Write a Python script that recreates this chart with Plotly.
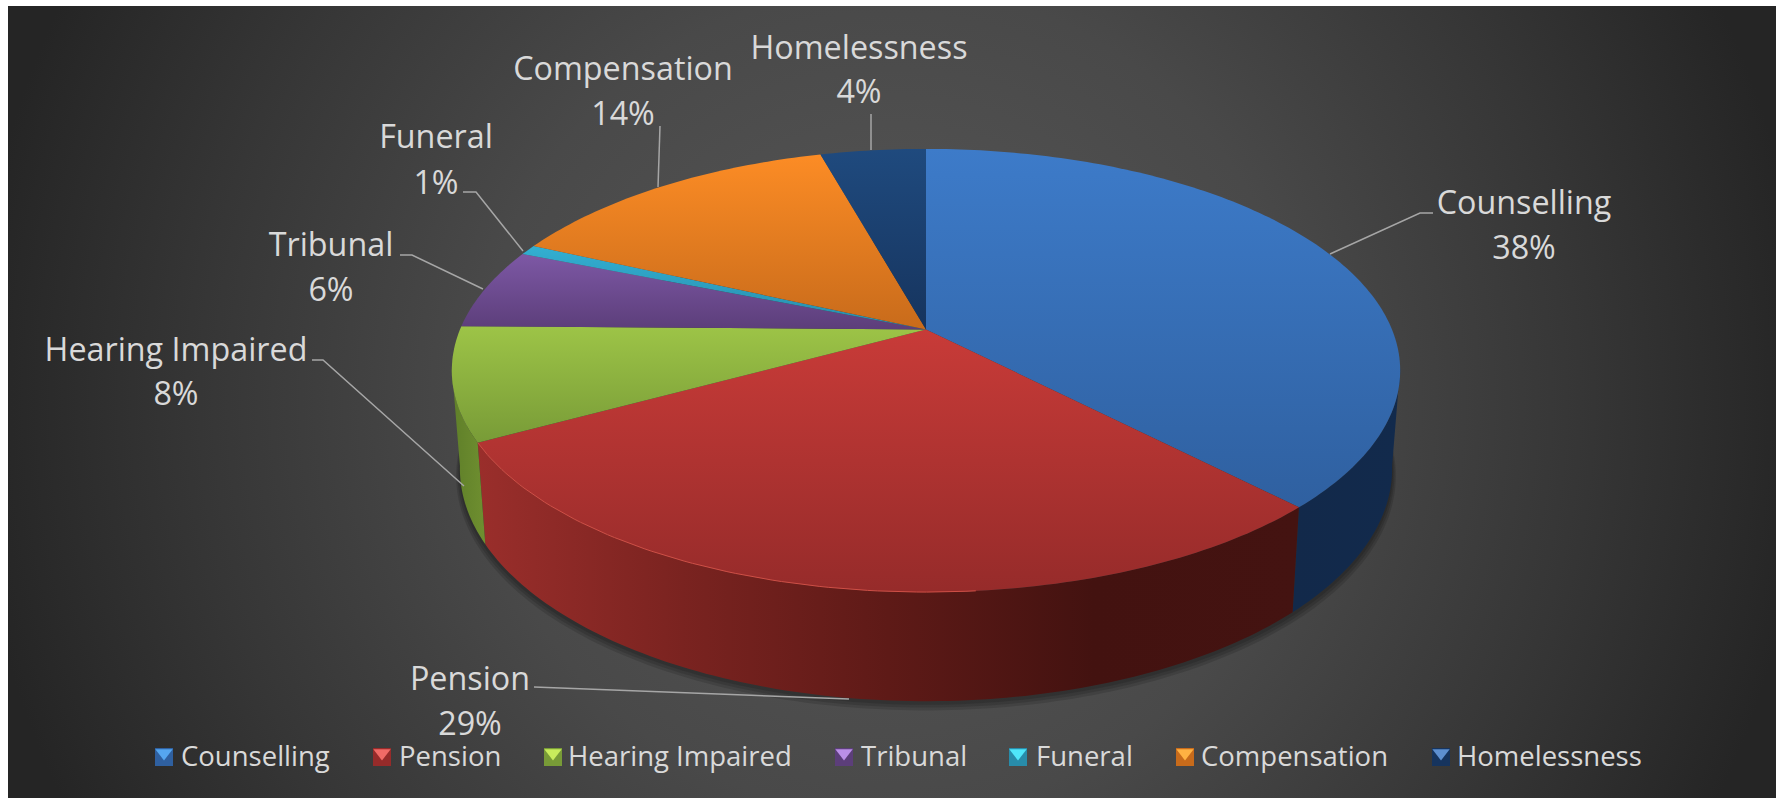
import numpy as np
import plotly.graph_objects as go

categories = ["Counselling", "Pension", "Hearing Impaired", "Tribunal", "Funeral", "Compensation", "Homelessness"]
shares = [37.8, 29.2, 8.25, 5.9, 0.75, 13.8, 4.3]

top_light = ["#3d7bc9", "#c83b38", "#9dc447", "#7d58a5", "#32afd2", "#fc8c25", "#1f4a7e"]
top_dark = ["#2f60a0", "#962b2a", "#789b37", "#5c3e7a", "#288caa", "#c86b1b", "#16345e"]
swatch_light = ["#55a6f0", "#f06a66", "#c8ec5c", "#bb8fe8", "#4fe6fa", "#ffb142", "#5d8fd0"]
wall_stops = {
    0: ["#12294a", "#122a4c"],
    1: ["#9a2e2b", "#7a2320", "#5e1a17", "#431210", "#441311"],
    2: ["#5f7f29", "#6f8f30"],
}

# pie geometry in pixels, measured on the picture
CX, CY = 926, 329.5
RX, RY = 466, 214
PERSP = 0.185
WALL_SX, WALL_SY = 0.983, 1.05
WALL_DROP = 96

label_centres = {
    "Counselling": (1524, 206, 251),
    "Pension": (470, 682, 727),
    "Hearing Impaired": (176, 353, 397),
    "Tribunal": (331, 248, 293),
    "Funeral": (436, 140, 186),
    "Compensation": (623, 72, 117),
    "Homelessness": (859, 51, 95),
}
leaders = [
    ([1433, 1420, 1330], [213, 213, 254]),
    ([534, 849], [687, 699]),
    ([312, 323, 464], [360, 360, 486]),
    ([400, 412, 483], [255, 255, 289]),
    ([463, 476, 523], [192, 192, 251]),
    ([660, 658], [126, 187]),
    ([871, 871], [114, 150]),
]
legend_swatch_x = [164, 382, 553, 844, 1018, 1185, 1441]
legend_text_x = [181, 399, 568, 861, 1036, 1201, 1457]
LEGEND_Y = 759


def project(angle_deg, sx=1.0, sy=1.0, drop=0.0):
    """Angle clockwise from the back of the pie to pixel position."""
    a = np.radians(angle_deg)
    depth = 1 - PERSP * -np.cos(a)
    x = RX * np.sin(a) / depth
    y = RY * -np.cos(a) / depth
    return CX + sx * x, CY + sy * y + drop


def arc(start, end, sx=1.0, sy=1.0, drop=0.0):
    return project(np.linspace(start, end, max(int(abs(end - start)) + 2, 3)), sx, sy, drop)


edges = np.cumsum([0] + shares) / sum(shares) * 360

fig = go.Figure()

# background glow
fig.add_trace(go.Scatter(
    x=[-30, 1810, 1810, -30, -30],
    y=[-520, -520, 1320, 1320, -520],
    mode="none",
    fill="toself",
    fillgradient=dict(type="radial", colorscale=[
        [0, "#585858"], [0.45, "#494949"], [0.75, "#363636"], [1, "#252525"]]),
    hoverinfo="skip",
    showlegend=False,
))

# soft shadow under the wall
for grow, drop in [(1.008, 7), (1.005, 5), (1.002, 3)]:
    sx, sy = arc(0, 360, WALL_SX * grow, WALL_SY * grow, WALL_DROP + drop)
    fig.add_trace(go.Scatter(
        x=sx, y=sy, mode="none", fill="toself",
        fillcolor="rgba(0,0,0,0.13)", hoverinfo="skip", showlegend=False,
    ))

# walls
for i, stops in wall_stops.items():
    start, end = max(edges[i], 100), min(edges[i + 1], 260)
    tx, ty = arc(start, end)
    bx, by = arc(end, start, WALL_SX, WALL_SY, WALL_DROP)
    fig.add_trace(go.Scatter(
        x=np.r_[tx, bx, tx[0]], y=np.r_[ty, by, ty[0]],
        mode="none", fill="toself",
        fillgradient=dict(type="horizontal",
                          colorscale=[[k / (len(stops) - 1), c] for k, c in enumerate(stops)]),
        hoverinfo="skip", showlegend=False,
    ))

# top face
for i, name in enumerate(categories):
    ax, ay = arc(edges[i], edges[i + 1])
    fig.add_trace(go.Scatter(
        x=np.r_[CX, ax, CX], y=np.r_[CY, ay, CY],
        mode="none", fill="toself",
        fillgradient=dict(type="vertical", colorscale=[[0, top_dark[i]], [1, top_light[i]]]),
        name=name,
        hovertemplate=f"{name}: {round(shares[i])}%<extra></extra>",
        showlegend=False,
    ))

# light rim along the front of the pension slice
rx, ry = arc(edges[2], 175)
fig.add_trace(go.Scatter(
    x=rx, y=ry, mode="lines", line=dict(color="#cf4f46", width=1),
    hoverinfo="skip", showlegend=False,
))

# leader lines
for lx, ly in leaders:
    fig.add_trace(go.Scatter(
        x=lx, y=ly, mode="lines", line=dict(color="#a6a6a6", width=1.5),
        hoverinfo="skip", showlegend=False,
    ))

# data labels
text_x, text_y, text_s = [], [], []
for name, share in zip(categories, shares):
    x, y1, y2 = label_centres[name]
    text_x += [x, x]
    text_y += [y1, y2]
    text_s += [name, f"{round(share)}%"]
fig.add_trace(go.Scatter(
    x=text_x, y=text_y, text=text_s, mode="text", textposition="middle center",
    textfont=dict(family="Open Sans", size=32.3, color="#d9d9d9"),
    hoverinfo="skip", showlegend=False,
))

# legend, spaced as in the picture
fig.add_trace(go.Scatter(
    x=legend_swatch_x, y=[LEGEND_Y - 2] * 7, mode="markers",
    marker=dict(symbol="square", size=18, color=top_dark),
    hoverinfo="skip", showlegend=False,
))
fig.add_trace(go.Scatter(
    x=legend_swatch_x, y=[LEGEND_Y - 6] * 7, mode="markers",
    marker=dict(symbol="triangle-down", size=15, color=swatch_light),
    hoverinfo="skip", showlegend=False,
))
fig.add_trace(go.Scatter(
    x=legend_text_x, y=[LEGEND_Y] * 7, text=categories, mode="text", textposition="middle right",
    textfont=dict(family="Open Sans", size=27.5, color="#d9d9d9"),
    hoverinfo="skip", showlegend=False,
))

fig.update_xaxes(range=[8, 1776], visible=False, fixedrange=True)
fig.update_yaxes(range=[798, 6], visible=False, fixedrange=True)
fig.update_layout(
    width=1781,
    height=798,
    margin=dict(l=8, r=5, t=6, b=0),
    paper_bgcolor="white",
    plot_bgcolor="#333333",
    showlegend=False,
)

fig.write_html("out.html", config=dict(displayModeBar=False),
               post_script="document.body.style.margin='0';document.body.style.overflow='hidden';")
